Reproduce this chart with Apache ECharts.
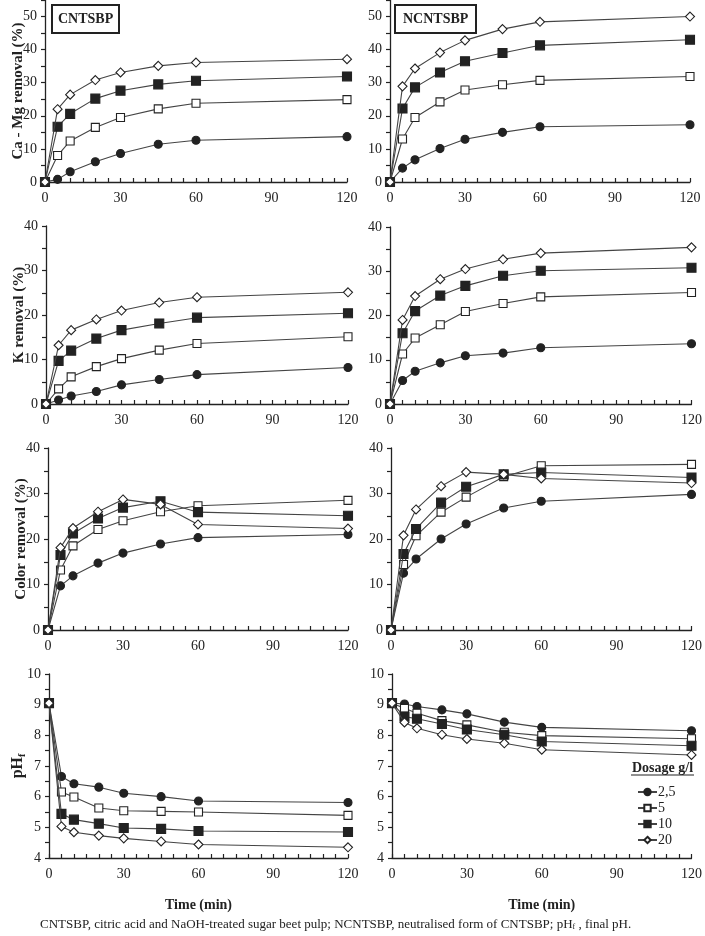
<!DOCTYPE html>
<html><head><meta charset="utf-8">
<script src="https://cdn.jsdelivr.net/npm/echarts@6/dist/echarts.min.js"></script>
<style>html,body{margin:0;padding:0;background:#fff}#c{width:705px;height:936px}</style>
</head><body><div id="c"></div>
<script>
// ---- data ----
const times = [0, 5, 10, 20, 30, 45, 60, 120];
const dosages = ['2,5', '5', '10', '20'];
const xTickLabels = [0, 30, 60, 90, 120];

// Ca - Mg removal (%)
const caMgC_25 = [0, 0.8, 3.1, 6.1, 8.6, 11.4, 12.6, 13.7];
const caMgC_5  = [0, 8.0, 12.4, 16.5, 19.5, 22.1, 23.8, 24.9];
const caMgC_10 = [0, 16.7, 20.6, 25.2, 27.6, 29.5, 30.6, 31.9];
const caMgC_20 = [0, 22.0, 26.4, 30.8, 33.1, 35.1, 36.1, 37.1];
const caMgN_25 = [0, 4.2, 6.7, 10.1, 12.9, 15.0, 16.7, 17.3];
const caMgN_5  = [0, 13.0, 19.5, 24.2, 27.8, 29.4, 30.7, 31.9];
const caMgN_10 = [0, 22.2, 28.6, 33.1, 36.5, 39.0, 41.3, 43.0];
const caMgN_20 = [0, 28.9, 34.3, 39.1, 42.8, 46.2, 48.4, 50.0];
// K removal (%)
const kC_25 = [0, 0.9, 1.8, 2.8, 4.3, 5.5, 6.6, 8.2];
const kC_5  = [0, 3.4, 6.1, 8.4, 10.2, 12.1, 13.6, 15.1];
const kC_10 = [0, 9.7, 12.0, 14.7, 16.6, 18.1, 19.4, 20.4];
const kC_20 = [0, 13.2, 16.6, 19.0, 21.0, 22.8, 24.0, 25.1];
const kN_25 = [0, 5.3, 7.4, 9.3, 10.9, 11.5, 12.7, 13.6];
const kN_5  = [0, 11.3, 14.9, 17.9, 20.9, 22.7, 24.2, 25.2];
const kN_10 = [0, 16.0, 21.0, 24.5, 26.7, 29.0, 30.1, 30.8];
const kN_20 = [0, 19.0, 24.4, 28.2, 30.5, 32.7, 34.1, 35.4];
// Color removal (%)
const colC_25 = [0, 9.7, 11.9, 14.7, 16.9, 18.9, 20.3, 21.0];
const colC_5  = [0, 13.2, 18.5, 22.1, 24.0, 26.0, 27.3, 28.5];
const colC_10 = [0, 16.5, 21.2, 24.5, 26.9, 28.3, 25.9, 25.1];
const colC_20 = [0, 18.1, 22.4, 26.0, 28.7, 27.6, 23.2, 22.3];
const colN_25 = [0, 12.5, 15.6, 20.0, 23.3, 26.8, 28.3, 29.8];
const colN_5  = [0, 14.4, 20.7, 25.9, 29.2, 33.7, 36.1, 36.4];
const colN_10 = [0, 16.7, 22.2, 28.0, 31.5, 34.2, 34.6, 33.5];
const colN_20 = [0, 20.8, 26.5, 31.6, 34.7, 34.2, 33.3, 32.3];
// final pH
const phC_25 = [9.05, 6.66, 6.42, 6.31, 6.11, 6.00, 5.86, 5.81];
const phC_5  = [9.05, 6.15, 5.99, 5.63, 5.54, 5.52, 5.50, 5.39];
const phC_10 = [9.05, 5.44, 5.25, 5.12, 4.98, 4.95, 4.88, 4.85];
const phC_20 = [9.05, 5.03, 4.84, 4.73, 4.64, 4.54, 4.44, 4.35];
const phN_25 = [9.05, 9.02, 8.94, 8.83, 8.70, 8.43, 8.26, 8.15];
const phN_5  = [9.05, 8.88, 8.72, 8.48, 8.34, 8.10, 7.99, 7.89];
const phN_10 = [9.05, 8.61, 8.54, 8.37, 8.19, 8.02, 7.80, 7.66];
const phN_20 = [9.05, 8.42, 8.23, 8.02, 7.88, 7.74, 7.53, 7.36];

// ---- layout / styling ----
const FONT = '"Liberation Serif", "Times New Roman", serif';
const INK = '#222';
const LINE = '#444';

const panels = [
  {g:{left:45, top:0, width:302, height:182}, y:[0,55,5], name:'Ca - Mg removal (%)', data:[caMgC_25,caMgC_5,caMgC_10,caMgC_20]},
  {g:{left:390, top:0, width:300, height:182}, y:[0,55,5], name:'', data:[caMgN_25,caMgN_5,caMgN_10,caMgN_20]},
  {g:{left:46, top:226, width:302, height:178}, y:[0,40,5], name:'K removal (%)', data:[kC_25,kC_5,kC_10,kC_20]},
  {g:{left:390, top:227, width:302, height:177}, y:[0,40,5], name:'', data:[kN_25,kN_5,kN_10,kN_20]},
  {g:{left:48, top:448, width:300, height:182}, y:[0,40,5], name:'Color removal (%)', data:[colC_25,colC_5,colC_10,colC_20]},
  {g:{left:391, top:448, width:302, height:182}, y:[0,40,5], name:'', data:[colN_25,colN_5,colN_10,colN_20]},
  {g:{left:49, top:674, width:299, height:184}, y:[4,10,0.5], name:'{a|pH}{b|f}', data:[phC_25,phC_5,phC_10,phC_20], bottom:true},
  {g:{left:392, top:674, width:302, height:184}, y:[4,10,0.5], name:'', data:[phN_25,phN_5,phN_10,phN_20], bottom:true}
];

const symbols = [
  {symbol:'circle', size:8, fill:INK},
  {symbol:'rect', size:8, fill:'#fff'},
  {symbol:'rect', size:9, fill:INK},
  {symbol:'diamond', size:9, fill:'#fff'}
];

const grid = [], xAxis = [], yAxis = [], series = [];
panels.forEach((p, i) => {
  grid.push(Object.assign({containLabel:false}, p.g));
  xAxis.push({
    type:'value', gridIndex:i, min:0, max:120, interval:5,
    axisLine:{show:true, onZero:false, lineStyle:{color:INK, width:1.3}},
    axisTick:{show:true, inside:true, length:4, lineStyle:{color:INK, width:1.2}},
    axisLabel:{interval:0, margin:9, fontFamily:FONT, fontSize:14, color:INK,
      formatter:v => xTickLabels.indexOf(v) >= 0 ? String(v) : ''},
    splitLine:{show:false},
    name: p.bottom ? 'Time (min)' : '',
    nameLocation:'middle', nameGap:40, nameMoveOverlap:false,
    nameTextStyle:{fontFamily:FONT, fontSize:14, fontWeight:'bold', color:INK}
  });
  const major = p.y[2] === 0.5 ? 1 : 10;
  yAxis.push({
    type:'value', gridIndex:i, min:p.y[0], max:p.y[1], interval:p.y[2],
    axisLine:{show:true, onZero:false, lineStyle:{color:INK, width:1.3}},
    axisTick:{show:true, inside:false, length:4, lineStyle:{color:INK, width:1.2}},
    axisLabel:{interval:0, margin:8, fontFamily:FONT, fontSize:14, color:INK,
      formatter:v => (Math.abs(v/major - Math.round(v/major)) < 1e-6 && v <= (p.y[1] === 55 ? 50 : p.y[1])) ? String(v) : ''},
    splitLine:{show:false},
    name:p.name, nameLocation:'middle', nameGap:p.y[2] === 0.5 ? 22 : 19, nameMoveOverlap:false,
    nameTextStyle:{fontFamily:FONT, fontSize:15, fontWeight:'bold', color:INK,
      rich:{a:{fontFamily:FONT, fontSize:16, fontWeight:'bold', color:INK},
            b:{fontFamily:FONT, fontSize:10, fontWeight:'bold', color:INK, verticalAlign:'bottom', padding:[8,0,0,0]}}}
  });
  p.data.forEach((vals, k) => {
    const s = symbols[k];
    series.push({
      type:'line', name:dosages[k], xAxisIndex:i, yAxisIndex:i,
      data: times.map((t, j) => [t, vals[j]]),
      symbol:s.symbol, symbolSize:s.size, showSymbol:true,
      lineStyle:{color:LINE, width:1.1},
      itemStyle:{color:s.fill, borderColor:INK, borderWidth:1.1},
      emphasis:{disabled:true}, z:2+k
    });
  });
});

const chart = echarts.init(document.getElementById('c'), null, {renderer:'canvas'});
chart.setOption({
  animation:false,
  backgroundColor:'#fff',
  title:[
    {text:'CNTSBP', left:52, top:5, padding:[7,6], borderColor:INK, borderWidth:2,
      textStyle:{fontFamily:FONT, fontSize:14, fontWeight:'bold', color:INK}},
    {text:'NCNTSBP', left:395, top:5, padding:[7,8], borderColor:INK, borderWidth:2,
      textStyle:{fontFamily:FONT, fontSize:14, fontWeight:'bold', color:INK}}
  ],
  legend:{
    data:dosages, orient:'vertical', left:637, top:785, itemGap:2, padding:0,
    itemWidth:19, itemHeight:8, selectedMode:false,
    textStyle:{fontFamily:FONT, fontSize:14, lineHeight:14, color:INK, padding:[0,0,0,-4]}
  },
  grid, xAxis, yAxis, series,
  graphic:[
    {type:'text', left:632, top:761, style:{text:'Dosage g/l', font:'bold 14px ' + FONT, fill:INK}},
    {type:'line', shape:{x1:631, y1:775, x2:694, y2:775}, style:{stroke:INK, lineWidth:1.2}},
    {type:'text', left:40, top:918, style:{
      text:'CNTSBP, citric acid and NaOH-treated sugar beet pulp; NCNTSBP, neutralised form of CNTSBP; pH{s|f} , final pH.',
      font:'13px ' + FONT, fill:INK,
      rich:{s:{fontSize:8, fontFamily:FONT, fill:INK, padding:[5,0,0,0]}}}}
  ]
});
</script></body></html>
